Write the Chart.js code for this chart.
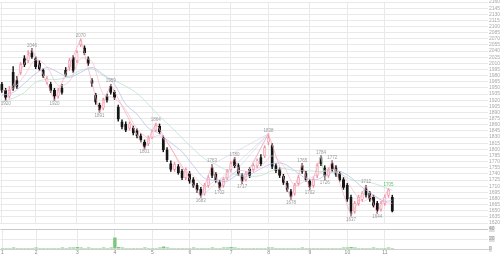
<!DOCTYPE html>
<html>
<head>
<meta charset="utf-8">
<script src="https://cdn.jsdelivr.net/npm/chart.js@4.4.1/dist/chart.umd.min.js"></script>
<style>
html,body{margin:0;padding:0;background:#fff;overflow:hidden}
#wrap{position:relative;width:500px;height:257px}
#priceBox{position:absolute;left:0;top:-2px;width:500px;height:229px}
#volBox{position:absolute;left:0;top:225px;width:500px;height:32px}
</style>
</head>
<body>
<div id="wrap">
 <div id="priceBox"><canvas id="priceChart"></canvas></div>
 <div id="volBox"><canvas id="volChart"></canvas></div>
</div>
<script>
// slots on the x axis (candles fill the first 105, rest is empty space)
const slotCount = 130
const monthTicks = [0, 9, 20, 30, 40, 50, 61, 71, 82, 92, 102]
const monthNames = ['1', '2', '3', '4', '5', '6', '7', '8', '9', '10', '11']

const opens = [1959,1944,1930,1988,1968,1988,2022,2017,2036,2022,
 2010,1993,1964,1959,1944,1930,1949,1993,2002,2024,
 2017,2056,2048,2022,1968,1932,1908,1901,1930,1954,
 1939,1903,1867,1862,1852,1852,1845,1833,1818,1814,
 1830,1847,1857,1828,1799,1765,1751,1758,1746,1731,
 1741,1726,1712,1702,1693,1712,1755,1739,1719,1712,
 1731,1751,1775,1760,1736,1726,1751,1751,1760,1780,
 1784,1818,1809,1760,1751,1734,1717,1697,1693,1717,
 1760,1741,1722,1712,1736,1780,1755,1736,1765,1755,
 1741,1726,1712,1683,1649,1668,1678,1702,1693,1683,
 1668,1654,1668,1688,1683]
const closes = [1944,1927,1944,1949,1954,2007,2007,2031,2026,2002,
 1997,1980,1973,1944,1930,1944,1939,1983,2017,1993,
 2036,2065,2036,2010,1961,1915,1896,1920,1920,1939,
 1927,1874,1855,1847,1862,1840,1833,1823,1806,1828,
 1843,1857,1843,1799,1775,1751,1763,1743,1731,1751,
 1722,1712,1700,1688,1712,1731,1736,1724,1707,1726,
 1746,1765,1760,1741,1722,1741,1736,1760,1772,1765,
 1804,1828,1758,1748,1736,1719,1702,1685,1712,1731,
 1746,1726,1709,1726,1760,1765,1736,1751,1751,1739,
 1726,1707,1678,1649,1668,1683,1693,1688,1678,1663,
 1651,1668,1683,1700,1649]
const highs = [1964,1949,1954,2002,1978,2012,2029,2041,2046,2026,
 2017,1997,1978,1964,1949,1949,1959,2000,2022,2029,
 2041,2070,2053,2026,1973,1937,1913,1925,1935,1959,
 1944,1908,1872,1867,1867,1857,1850,1838,1823,1833,
 1847,1864,1862,1833,1804,1772,1768,1763,1751,1755,
 1746,1731,1717,1707,1717,1736,1763,1743,1724,1731,
 1751,1770,1780,1765,1741,1746,1755,1765,1777,1787,
 1809,1838,1814,1765,1755,1739,1722,1702,1717,1736,
 1765,1746,1726,1731,1765,1784,1760,1755,1772,1760,
 1746,1731,1717,1688,1673,1688,1697,1712,1697,1688,
 1673,1673,1688,1705,1688]
const lows = [1939,1920,1925,1944,1949,1983,2002,2012,2022,1997,
 1993,1976,1959,1939,1920,1925,1935,1978,1993,1988,
 2012,2051,2031,2005,1954,1910,1891,1896,1915,1935,
 1922,1869,1850,1843,1847,1835,1828,1818,1801,1809,
 1826,1843,1838,1794,1770,1746,1746,1739,1726,1726,
 1717,1707,1695,1683,1688,1707,1731,1719,1702,1707,
 1726,1746,1755,1736,1717,1722,1731,1746,1755,1760,
 1780,1811,1753,1743,1731,1714,1697,1678,1688,1712,
 1741,1722,1702,1707,1731,1760,1726,1731,1746,1734,
 1722,1702,1673,1637,1644,1663,1673,1683,1673,1659,
 1644,1649,1663,1683,1647]
const volumes = [2,2,2,3,2,2,2,2,2,3,
 2,2,2,2,2,2,3,2,3,3,
 4,3,2,3,2,2,2,3,2,3,
 23,4,3,2,2,2,2,2,3,2,
 2,2,3,5,3,2,2,2,2,2,
 2,3,2,2,2,2,3,2,2,3,
 3,4,3,2,2,2,2,2,2,2,
 2,3,3,2,2,2,2,2,2,2,
 3,2,2,2,2,2,2,2,2,2,
 2,3,3,4,3,2,2,2,2,3,
 2,2,2,3,2]

const maIdx = [0,3,6,9,12,15,18,21,24,27,30,33,36,39,42,45,48,51,54,57,60,63,66,69,72,75,78,81,84,87,90,93,96,99,102,104]
const ma5 = [1944,1949,1980,2019,2002,1956,1966,2022,2014,1935,1925,1896,1850,1828,1833,1804,1753,1736,1709,1724,1731,1748,1746,1758,1784,1760,1712,1724,1739,1751,1746,1707,1673,1685,1671,1668]
const ma10 = [1932,1939,1961,1985,2000,1988,1976,1988,2000,1983,1959,1910,1886,1852,1838,1816,1794,1760,1729,1724,1722,1739,1739,1753,1765,1765,1748,1729,1726,1741,1746,1731,1707,1688,1673,1676]
const ma20 = [1915,1925,1939,1964,1971,1971,1978,1993,1997,1980,1968,1954,1937,1910,1881,1855,1828,1801,1777,1763,1748,1736,1734,1736,1748,1753,1748,1748,1746,1746,1741,1726,1722,1717,1707,1700]

// turning points that get a price label
const peakIdx = [8, 21, 29, 41, 56, 62, 71, 80, 85, 88, 97, 103]
const troughIdx = [1, 14, 26, 38, 53, 58, 64, 77, 82, 86, 93, 100]
const fanFrom = 71
const fanTo = [53, 56, 58, 64]

const upColor = '#f28fa3'
const downColor = '#151515'

let slots = []
for (let i = 0; i < slotCount; i++) slots.push(i)

function spread(idx, vals) {
  let arr = new Array(slotCount).fill(null)
  idx.forEach((k, j) => { arr[k] = vals[j] })
  return arr
}

let bodies = [], wicks = [], bodyFill = [], bodyLine = [], wickColor = []
opens.forEach((o, i) => {
  let up = closes[i] >= o
  bodies.push([o, closes[i]])
  wicks.push([lows[i], highs[i]])
  bodyFill.push(up ? '#fde3e8' : downColor)
  bodyLine.push(up ? upColor : downColor)
  wickColor.push(up ? upColor : downColor)
})

let zigIdx = peakIdx.concat(troughIdx).sort((a, b) => a - b)
let zigVals = zigIdx.map(i => peakIdx.includes(i) ? highs[i] : lows[i])

let fanSets = fanTo.map(t => ({
  type: 'line',
  data: spread([t, fanFrom], [troughIdx.includes(t) ? lows[t] : highs[t], highs[fanFrom]]),
  borderColor: '#cfcfec',
  borderWidth: 0.6,
  pointRadius: 0,
  spanGaps: true,
  order: 1
}))

const gridCol = '#e9e9e9'
const tickFont = { family: '"Liberation Sans", sans-serif', size: 5 }

function monthGrid(c) {
  return monthTicks.includes(c.index) ? gridCol : 'rgba(0,0,0,0)'
}

const pivotLabels = {
  id: 'pivotLabels',
  afterDatasetsDraw(chart) {
    let ctx = chart.ctx, xs = chart.scales.x, ys = chart.scales.y
    ctx.save()
    ctx.font = '4.5px "Liberation Sans", sans-serif'
    ctx.textAlign = 'center'
    ctx.textBaseline = 'bottom'
    peakIdx.forEach((i, j) => {
      ctx.fillStyle = j === peakIdx.length - 1 ? '#5cc06c' : '#9a9a9a'
      ctx.fillText(String(highs[i]), xs.getPixelForValue(i), ys.getPixelForValue(highs[i]) - 1)
    })
    ctx.textBaseline = 'top'
    ctx.fillStyle = '#9a9a9a'
    troughIdx.forEach(i => {
      ctx.fillText(String(lows[i]), xs.getPixelForValue(i), ys.getPixelForValue(lows[i]) + 1)
    })
    ctx.restore()
  }
}

new Chart(document.getElementById('priceChart'), {
  type: 'bar',
  data: {
    labels: slots,
    datasets: [
      { data: wicks, backgroundColor: wickColor, barThickness: 0.8, grouped: false, order: 4 },
      { data: bodies, backgroundColor: bodyFill, borderColor: bodyLine, borderWidth: 0.6,
        borderSkipped: false, barThickness: 2.4, grouped: false, order: 3 },
      { type: 'line', data: spread(maIdx, ma20), borderColor: '#b3dccd', borderWidth: 0.7,
        pointRadius: 0, spanGaps: true, tension: 0.3, order: 2 },
      { type: 'line', data: spread(maIdx, ma10), borderColor: '#b3b8ea', borderWidth: 0.7,
        pointRadius: 0, spanGaps: true, tension: 0.3, order: 2 },
      { type: 'line', data: spread(maIdx, ma5), borderColor: '#f6bccb', borderWidth: 0.7,
        pointRadius: 0, spanGaps: true, tension: 0.3, order: 2 },
      { type: 'line', data: spread(zigIdx, zigVals), borderWidth: 0.7, pointRadius: 0,
        spanGaps: true, order: 1,
        segment: { borderColor: c => c.p1.parsed.y < c.p0.parsed.y ? '#a6d9b0' : '#f4a9b8' } }
    ].concat(fanSets)
  },
  options: {
    responsive: true,
    maintainAspectRatio: false,
    animation: false,
    layout: { padding: 0 },
    plugins: { legend: { display: false }, tooltip: { enabled: false } },
    scales: {
      x: {
        ticks: { display: false, autoSkip: false },
        grid: { color: monthGrid, drawTicks: false, offset: false },
        border: { display: false }
      },
      y: {
        position: 'right',
        min: 1620, max: 2160,
        ticks: { stepSize: 15, autoSkip: false, font: tickFont, color: '#a8a8a8', padding: 1,
          callback: v => String(v) },
        grid: { color: gridCol, drawTicks: false },
        border: { display: false },
        afterFit: s => { s.width = 12 }
      }
    }
  },
  plugins: [pivotLabels]
})

new Chart(document.getElementById('volChart'), {
  type: 'bar',
  data: {
    labels: slots,
    datasets: [{ data: volumes, backgroundColor: '#7cc77f', barPercentage: 1, categoryPercentage: 0.9 }]
  },
  options: {
    responsive: true,
    maintainAspectRatio: false,
    animation: false,
    layout: { padding: 0 },
    plugins: { legend: { display: false }, tooltip: { enabled: false } },
    scales: {
      x: {
        ticks: {
          autoSkip: false, maxRotation: 0, minRotation: 0, padding: 1,
          font: tickFont, color: '#888',
          callback: (v, i) => monthTicks.includes(i) ? monthNames[monthTicks.indexOf(i)] : ''
        },
        grid: { color: monthGrid, drawTicks: false, offset: false },
        border: { color: '#d0d0d0' }
      },
      y: {
        position: 'right',
        min: 0, max: 40,
        ticks: { stepSize: 10, font: tickFont, color: '#999', padding: 1,
          showLabelBackdrop: true, backdropColor: '#dedede', backdropPadding: 0 },
        grid: { color: c => c.tick.value === 40 ? '#c8c8c8' : gridCol, drawTicks: false },
        border: { display: false },
        afterFit: s => { s.width = 12 }
      }
    }
  }
})
</script>
</body>
</html>
